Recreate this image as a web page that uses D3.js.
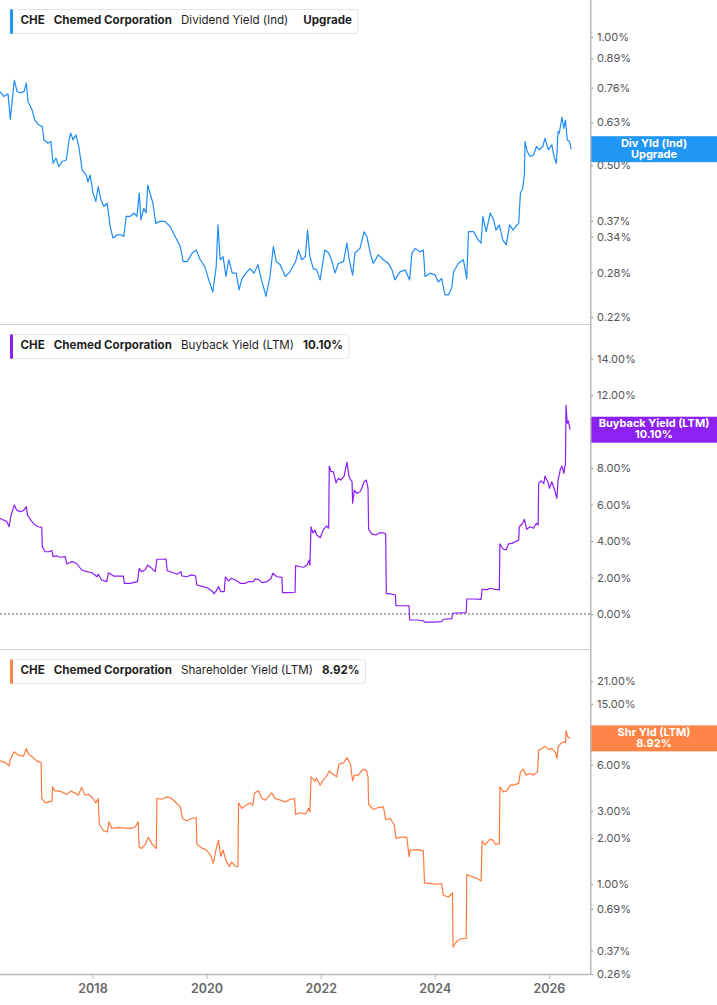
<!DOCTYPE html>
<html><head><meta charset="utf-8">
<script src="https://cdn.jsdelivr.net/npm/d3@7"></script>
<style>body{margin:0;background:#fff;} svg{display:block;font-family:Inter,"Noto Sans",sans-serif;}</style>
</head><body><svg id="c" width="717" height="1005"></svg>
<script>
// ---- data (decimal years, percent values) ----
const divDates=[2016.38,2016.45,2016.52,2016.56,2016.63,2016.68,2016.73,2016.80,2016.84,2016.87,2016.94,2016.99,2017.06,2017.12,2017.15,2017.22,2017.27,2017.31,2017.36,2017.41,2017.47,2017.54,2017.59,2017.62,2017.66,2017.71,2017.76,2017.82,2017.89,2017.92,2017.96,2018.01,2018.06,2018.10,2018.15,2018.20,2018.26,2018.31,2018.36,2018.43,2018.50,2018.55,2018.59,2018.66,2018.73,2018.78,2018.82,2018.85,2018.90,2018.94,2018.97,2019.01,2019.06,2019.11,2019.18,2019.27,2019.36,2019.45,2019.54,2019.59,2019.66,2019.75,2019.82,2019.89,2019.97,2020.04,2020.11,2020.17,2020.20,2020.24,2020.29,2020.34,2020.39,2020.45,2020.52,2020.57,2020.62,2020.69,2020.76,2020.83,2020.90,2020.96,2021.01,2021.04,2021.11,2021.17,2021.22,2021.29,2021.38,2021.46,2021.56,2021.61,2021.67,2021.73,2021.77,2021.81,2021.87,2021.93,2021.99,2022.07,2022.14,2022.20,2022.25,2022.31,2022.40,2022.46,2022.50,2022.56,2022.60,2022.69,2022.76,2022.81,2022.87,2022.92,2023.01,2023.10,2023.19,2023.25,2023.30,2023.39,2023.48,2023.56,2023.60,2023.66,2023.74,2023.80,2023.83,2023.92,2024.01,2024.06,2024.12,2024.18,2024.24,2024.30,2024.33,2024.41,2024.50,2024.56,2024.59,2024.68,2024.76,2024.81,2024.84,2024.90,2024.97,2025.03,2025.07,2025.13,2025.19,2025.25,2025.31,2025.37,2025.44,2025.47,2025.50,2025.54,2025.57,2025.58,2025.62,2025.67,2025.73,2025.78,2025.83,2025.89,2025.93,2025.99,2026.05,2026.09,2026.13,2026.16,2026.18,2026.23,2026.26,2026.29,2026.32,2026.36,2026.39];
const divValues=[0.744,0.724,0.735,0.641,0.790,0.744,0.739,0.744,0.779,0.705,0.674,0.638,0.621,0.616,0.573,0.563,0.568,0.505,0.519,0.496,0.510,0.514,0.573,0.594,0.573,0.589,0.553,0.487,0.474,0.457,0.474,0.430,0.411,0.445,0.414,0.400,0.407,0.359,0.337,0.343,0.343,0.340,0.379,0.379,0.386,0.379,0.430,0.372,0.396,0.386,0.449,0.430,0.407,0.365,0.369,0.369,0.359,0.340,0.322,0.297,0.297,0.311,0.316,0.300,0.289,0.269,0.252,0.289,0.362,0.300,0.305,0.274,0.300,0.279,0.279,0.255,0.271,0.279,0.286,0.279,0.292,0.269,0.255,0.246,0.274,0.322,0.297,0.292,0.274,0.281,0.297,0.316,0.300,0.305,0.352,0.305,0.286,0.284,0.269,0.316,0.311,0.297,0.279,0.294,0.297,0.328,0.300,0.276,0.311,0.319,0.349,0.340,0.311,0.294,0.308,0.300,0.294,0.284,0.269,0.281,0.284,0.269,0.311,0.319,0.313,0.316,0.274,0.279,0.276,0.266,0.271,0.248,0.248,0.259,0.281,0.294,0.300,0.271,0.349,0.349,0.334,0.328,0.379,0.349,0.386,0.372,0.352,0.362,0.334,0.325,0.362,0.352,0.362,0.365,0.430,0.441,0.479,0.568,0.538,0.524,0.528,0.553,0.543,0.553,0.578,0.543,0.558,0.524,0.505,0.599,0.594,0.648,0.610,0.638,0.573,0.568,0.545];

const buyDates=[2016.38,2016.44,2016.50,2016.54,2016.57,2016.63,2016.67,2016.73,2016.79,2016.84,2016.86,2016.94,2016.99,2017.05,2017.11,2017.12,2017.17,2017.23,2017.29,2017.31,2017.37,2017.43,2017.52,2017.55,2017.64,2017.72,2017.81,2017.90,2017.99,2018.08,2018.10,2018.16,2018.25,2018.28,2018.37,2018.45,2018.54,2018.56,2018.66,2018.79,2018.82,2018.86,2018.92,2018.97,2019.04,2019.10,2019.13,2019.22,2019.29,2019.31,2019.42,2019.48,2019.55,2019.57,2019.65,2019.74,2019.81,2019.83,2019.94,2020.03,2020.11,2020.13,2020.18,2020.21,2020.25,2020.31,2020.33,2020.38,2020.44,2020.53,2020.59,2020.68,2020.73,2020.82,2020.85,2020.91,2020.97,2021.06,2021.13,2021.16,2021.23,2021.32,2021.33,2021.46,2021.55,2021.56,2021.64,2021.70,2021.76,2021.80,2021.81,2021.83,2021.86,2021.90,2021.93,2021.99,2022.05,2022.10,2022.14,2022.15,2022.18,2022.22,2022.27,2022.31,2022.35,2022.41,2022.46,2022.50,2022.55,2022.56,2022.59,2022.63,2022.69,2022.72,2022.76,2022.80,2022.83,2022.84,2022.90,2022.97,2023.03,2023.10,2023.14,2023.15,2023.22,2023.31,2023.32,2023.45,2023.55,2023.56,2023.69,2023.80,2023.83,2023.98,2024.12,2024.15,2024.30,2024.31,2024.55,2024.56,2024.68,2024.81,2024.83,2024.91,2024.97,2025.06,2025.13,2025.14,2025.20,2025.25,2025.29,2025.35,2025.41,2025.47,2025.48,2025.53,2025.57,2025.61,2025.67,2025.73,2025.78,2025.81,2025.82,2025.86,2025.91,2025.93,2025.98,2026.01,2026.05,2026.09,2026.14,2026.16,2026.20,2026.23,2026.26,2026.29,2026.30,2026.32,2026.34,2026.37];
const buyValues=[5.24,5.15,5.06,4.78,5.37,5.97,5.70,5.61,5.66,5.88,5.42,5.06,4.88,4.78,4.75,3.69,3.41,3.41,3.47,3.14,3.19,3.11,3.14,2.74,2.87,2.78,2.41,2.32,2.26,2.04,2.19,1.86,1.77,2.26,2.08,2.08,2.08,1.68,1.68,1.77,2.50,2.32,2.41,2.68,2.50,2.32,3.00,3.00,3.01,2.37,2.26,2.18,2.32,2.08,2.04,2.14,2.08,1.59,1.50,1.41,1.22,1.10,1.32,1.50,1.22,1.22,2.04,1.81,1.96,1.82,1.68,1.68,1.77,1.77,1.92,1.90,1.72,1.77,1.96,2.23,2.04,2.01,1.17,1.17,1.19,2.65,2.59,2.56,2.68,2.96,2.68,4.78,4.45,4.60,4.33,4.18,4.64,4.82,4.70,8.11,7.80,7.80,7.19,7.44,7.34,7.56,8.31,7.49,7.25,6.07,6.79,6.61,6.70,6.89,7.25,7.34,6.89,4.64,4.38,4.33,4.45,4.45,4.38,1.13,1.10,1.04,0.45,0.45,0.44,-0.33,-0.33,-0.37,-0.45,-0.45,-0.42,-0.29,-0.26,0.04,0.07,0.82,0.82,0.80,1.37,1.32,1.41,1.35,1.32,3.84,3.55,3.51,3.84,3.87,3.96,4.05,4.78,4.93,5.19,4.64,4.78,4.70,4.97,4.88,7.16,7.30,7.16,7.56,7.25,6.89,7.25,6.89,6.34,7.34,7.93,8.11,7.71,8.26,11.45,10.45,10.59,10.10];

const shrDates=[2016.38,2016.47,2016.54,2016.56,2016.63,2016.70,2016.79,2016.84,2016.88,2016.96,2017.02,2017.10,2017.11,2017.17,2017.29,2017.30,2017.34,2017.40,2017.46,2017.55,2017.62,2017.69,2017.75,2017.81,2017.87,2017.93,2018.01,2018.06,2018.10,2018.12,2018.19,2018.26,2018.29,2018.34,2018.43,2018.54,2018.66,2018.75,2018.80,2018.82,2018.86,2018.92,2018.98,2019.04,2019.12,2019.13,2019.22,2019.31,2019.39,2019.48,2019.54,2019.58,2019.65,2019.74,2019.82,2019.83,2019.92,2020.00,2020.07,2020.12,2020.17,2020.21,2020.25,2020.29,2020.34,2020.40,2020.44,2020.50,2020.55,2020.56,2020.62,2020.69,2020.76,2020.81,2020.84,2020.91,2020.97,2021.03,2021.08,2021.14,2021.20,2021.29,2021.38,2021.46,2021.54,2021.56,2021.64,2021.73,2021.79,2021.81,2021.83,2021.90,2021.93,2021.99,2022.05,2022.10,2022.15,2022.21,2022.28,2022.32,2022.40,2022.46,2022.52,2022.56,2022.59,2022.66,2022.74,2022.80,2022.83,2022.84,2022.92,2023.01,2023.10,2023.14,2023.22,2023.29,2023.32,2023.41,2023.51,2023.55,2023.57,2023.69,2023.80,2023.82,2023.92,2024.04,2024.12,2024.15,2024.24,2024.31,2024.32,2024.39,2024.47,2024.55,2024.56,2024.65,2024.74,2024.81,2024.83,2024.88,2024.96,2025.02,2025.06,2025.13,2025.14,2025.20,2025.26,2025.32,2025.38,2025.47,2025.50,2025.55,2025.60,2025.66,2025.73,2025.80,2025.82,2025.88,2025.93,2025.99,2026.05,2026.11,2026.14,2026.16,2026.21,2026.26,2026.29,2026.30,2026.33,2026.37];
const shrValues=[6.37,6.22,5.91,6.50,7.29,6.94,6.83,7.67,7.04,6.70,6.37,6.22,3.62,3.39,3.48,4.31,4.06,4.06,4.00,3.85,4.04,3.94,3.80,4.27,3.80,3.86,3.62,3.39,3.62,2.46,2.23,2.19,2.55,2.31,2.34,2.33,2.31,2.36,2.55,1.75,1.71,1.80,2.02,1.84,1.71,3.62,3.58,3.71,3.62,3.36,3.19,2.68,2.59,2.68,2.72,1.82,1.72,1.67,1.55,1.37,1.71,1.94,1.52,1.67,1.43,1.30,1.40,1.31,1.30,3.39,3.12,3.27,3.39,3.27,3.94,4.06,3.62,3.53,3.71,3.94,3.62,3.53,3.44,3.57,3.62,2.85,2.92,2.86,3.12,2.96,5.01,4.70,4.89,4.42,4.82,5.01,5.48,5.22,5.01,6.06,6.18,6.66,6.12,4.72,5.14,5.14,5.60,5.54,5.01,3.32,3.07,3.16,3.19,2.64,2.68,2.43,1.99,2.03,2.02,1.51,1.67,1.68,1.65,1.02,1.01,1.00,1.01,0.848,0.826,0.877,0.390,0.427,0.443,0.443,1.16,1.12,1.09,1.05,1.92,1.80,1.96,1.94,1.82,1.84,4.31,4.00,4.06,4.42,4.42,4.54,5.40,5.60,5.14,5.27,5.14,5.40,7.48,7.67,7.94,7.56,7.67,7.29,6.60,7.86,8.27,8.47,8.38,9.99,9.13,8.92];

const xTickYears=[2018,2020,2022,2024,2026];
const divTicks=[1.00,0.89,0.76,0.63,0.50,0.37,0.34,0.28,0.22];
const buyTicks=[14,12,10,8,6,4,2,0];
const shrTicks=[21,15,8,6,3,2,1,0.69,0.37,0.26];
const ticker="CHE";
const company="Chemed Corporation";
const metricNames=["Dividend Yield (Ind)","Buyback Yield (LTM)","Shareholder Yield (LTM)"];
const legendValues=["Upgrade","10.10%","8.92%"];
const tagLines=[["Div Yld (Ind)","Upgrade"],["Buyback Yield (LTM)","10.10%"],["Shr Yld (LTM)","8.92%"]];

// ---- layout ----
const W=717, plotR=590;
function toDate(y){const yr=Math.floor(y);const s=Date.UTC(yr,0,1),e=Date.UTC(yr+1,0,1);return new Date(s+(y-yr)*(e-s));}
const x=d3.scaleUtc().domain([toDate(2016.38),toDate(2026.72)]).range([0,plotR]);

const panels=[
 {dates:divDates,values:divValues,ticks:divTicks,top:0,bottom:324,scale:d3.scaleLog().domain([0.212,1.22]),color:"#1E8CF5",tag:"#2196F3",gapLast:15},
 {dates:buyDates,values:buyValues,ticks:buyTicks,top:325,bottom:649,scale:d3.scaleLinear().domain([-1.92,15.84]),color:"#8A1EF5",tag:"#8C22F2",zero:true,gapLast:9},
 {dates:shrDates,values:shrValues,ticks:shrTicks,top:650,bottom:974,scale:d3.scaleLog().domain([0.26,33.6]),color:"#FF7A3D",tag:"#FF8447",gapLast:9}
];

const svg=d3.select("#c");
const fmt=d3.format(".2f");

panels.forEach((p,i)=>{
  const y=p.scale.range([p.bottom,p.top]);
  const g=svg.append("g");
  g.append("clipPath").attr("id","clip"+i).append("rect").attr("x",0).attr("y",p.top).attr("width",plotR).attr("height",p.bottom-p.top);
  g.append("line").attr("x1",0).attr("x2",plotR).attr("y1",p.bottom+0.5).attr("y2",p.bottom+0.5).attr("stroke",i<2?"#d0d0d0":"#b8b8b8").attr("stroke-width",i<2?1:1.5);
  if(p.zero){
    g.append("line").attr("x1",0).attr("x2",plotR).attr("y1",y(0)).attr("y2",y(0)).attr("stroke","#555").attr("stroke-width",1).attr("stroke-dasharray","2,2");
  }
  // y axis
  const ax=d3.axisRight(y).tickValues(p.ticks).tickSize(3).tickPadding(4).tickFormat(d=>fmt(d)+"%");
  const ag=g.append("g").attr("transform",`translate(${plotR},0)`).call(ax);
  ag.select(".domain").remove();
  ag.selectAll("line").attr("stroke","#888");
  ag.selectAll("text").attr("fill","#555").style("font-size","11px").style("font-family","Inter,'Noto Sans',sans-serif");
  // line
  const data=p.dates.map((d,k)=>({d:toDate(d),v:p.values[k]}));
  const line=d3.line().x(d=>x(d.d)).y(d=>y(d.v));
  g.append("path").datum(data).attr("d",line).attr("fill","none").attr("stroke",p.color).attr("stroke-width",1.2).attr("stroke-linejoin","round").attr("clip-path",`url(#clip${i})`);
  // tag box
  const last=data[data.length-1];
  const cy=y(last.v);
  g.append("rect").attr("x",plotR).attr("y",cy-13).attr("width",W-plotR).attr("height",26).attr("fill",p.tag);
  tagLines[i].forEach((t,k)=>{
    g.append("text").attr("x",(plotR+W)/2+0.5).attr("y",cy-5.5+k*11).attr("text-anchor","middle").attr("dominant-baseline","middle")
     .attr("fill","#fff").style("font-size","11px").style("font-weight","700").text(t);
  });
  // legend
  const lg=svg.append("g");
  const ly=p.top+21;
  const box=lg.append("rect").attr("x",10.5).attr("y",p.top+9.5).attr("height",24).attr("rx",3).attr("fill","#fff").attr("stroke","#e4e4e4");
  lg.append("rect").attr("x",10).attr("y",p.top+9).attr("width",3).attr("height",25).attr("rx",1.5).attr("fill",p.tag);
  const parts=[[ticker,700],[company,700],[metricNames[i],400],[legendValues[i],700]];
  let cx=20.5, endX=0;
  parts.forEach(([t,w],k)=>{
    const te=lg.append("text").attr("x",cx).attr("y",ly).attr("dominant-baseline","middle").attr("fill","#1f1f1f")
      .style("font-size","11.6px").style("font-weight",w).text(t);
    const len=te.node().getComputedTextLength();
    endX=cx+len;
    cx+=len+(k===2?p.gapLast:9);
  });
  box.attr("width",endX+6-10.5);
});

// vertical axis line
svg.append("line").attr("x1",plotR+0.75).attr("x2",plotR+0.75).attr("y1",0).attr("y2",975).attr("stroke","#b8b8b8").attr("stroke-width",1.5);

// x axis
const xa=d3.axisBottom(x).tickValues(xTickYears.map(y=>toDate(y))).tickSize(4).tickPadding(5).tickFormat(d3.utcFormat("%Y"));
const xg=svg.append("g").attr("transform","translate(0,975)").call(xa);
xg.select(".domain").remove();
xg.selectAll("line").attr("stroke","#b8b8b8");
xg.selectAll("text").attr("fill","#666").style("font-size","12.5px").style("font-weight","600").style("font-family","Inter,'Noto Sans',sans-serif");
</script></body></html>
